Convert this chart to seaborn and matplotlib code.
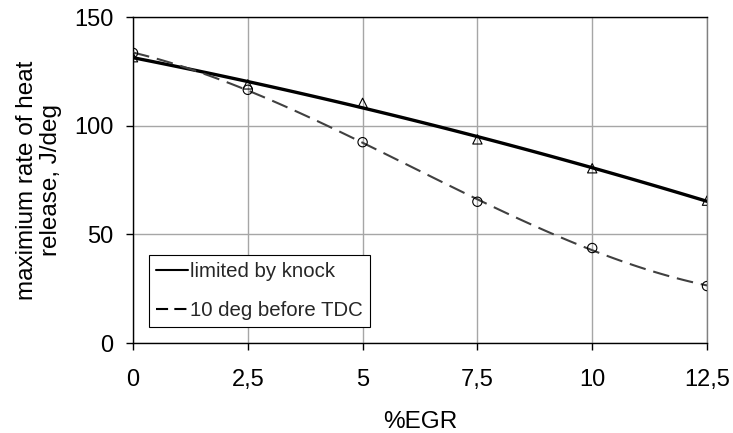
import numpy as np
import pandas as pd
import matplotlib
matplotlib.use("Agg")
import matplotlib.pyplot as plt
import seaborn as sns
from matplotlib.lines import Line2D

egr = [0, 2.5, 5, 7.5, 10, 12.5]
knock = [131.5, 119.0, 110.5, 93.7, 80.4, 65.5]
tdc10 = [133.5, 116.5, 92.4, 65.0, 43.7, 26.2]
xticks = [0, 2.5, 5, 7.5, 10, 12.5]
xtick_labels = ["0", "2,5", "5", "7,5", "10", "12,5"]
yticks = [0, 50, 100, 150]

df = pd.DataFrame({"egr": egr, "knock": knock, "tdc10": tdc10})

sns.set_theme(style="white")
plt.rcParams["font.family"] = ["Liberation Sans", "DejaVu Sans"]

fig = plt.figure(figsize=(7.33, 4.33), dpi=100)
ax = fig.add_axes([133 / 733, 1 - 343 / 433, 574 / 733, 326 / 433])

# polynomial trend lines through the measured points
sns.regplot(data=df, x="egr", y="knock", order=2, ci=None, scatter=False,
            truncate=True, ax=ax,
            line_kws=dict(color="black", lw=2.4, zorder=3))
sns.regplot(data=df, x="egr", y="tdc10", order=3, ci=None, scatter=False,
            truncate=True, ax=ax,
            line_kws=dict(color="#404040", lw=1.5, dashes=(8, 3.8), zorder=3))

sns.scatterplot(data=df, x="egr", y="knock", marker="^", s=45,
                facecolor="none", edgecolor="black", linewidth=0.8,
                ax=ax, zorder=4, legend=False)
sns.scatterplot(data=df, x="egr", y="tdc10", marker="o", s=45,
                facecolor="none", edgecolor="black", linewidth=0.8,
                ax=ax, zorder=4, legend=False)

ax.set_xlim(0, 12.5)
ax.set_ylim(0, 150)
ax.set_xticks(xticks)
ax.set_xticklabels(xtick_labels)
ax.set_yticks(yticks)
ax.grid(True, color="#a6a6a6", lw=1.0)
ax.set_axisbelow(True)

for side in ["left", "bottom", "top"]:
    ax.spines[side].set_color("black")
    ax.spines[side].set_linewidth(1.0)
ax.spines["right"].set_color("#808080")
ax.spines["right"].set_linewidth(1.0)

ax.tick_params(axis="both", direction="out", length=5, width=1.0,
               color="black", labelsize=17, labelcolor="black",
               left=True, bottom=True)
ax.tick_params(axis="x", pad=14)
ax.tick_params(axis="y", pad=9)

ax.set_xlabel("%EGR", fontsize=17.5, color="black", labelpad=14)
ax.set_ylabel("maximium rate of heat\nrelease, J/deg", fontsize=17.5,
              color="black", labelpad=9, linespacing=1.1)

handles = [
    Line2D([], [], color="black", lw=1.5),
    Line2D([], [], color="black", lw=1.5, dashes=(5.8, 3)),
]
leg = ax.legend(handles, ["limited by knock", "10 deg before TDC"],
                loc="lower left", bbox_to_anchor=(0.028, 0.049),
                borderaxespad=0, fontsize=14.7, frameon=True, fancybox=False,
                edgecolor="black", framealpha=1, handlelength=1.55,
                handletextpad=0.12, labelspacing=0.95, borderpad=0.35)
leg.get_frame().set_linewidth(0.8)

fig.savefig("out.png", dpi=100)
